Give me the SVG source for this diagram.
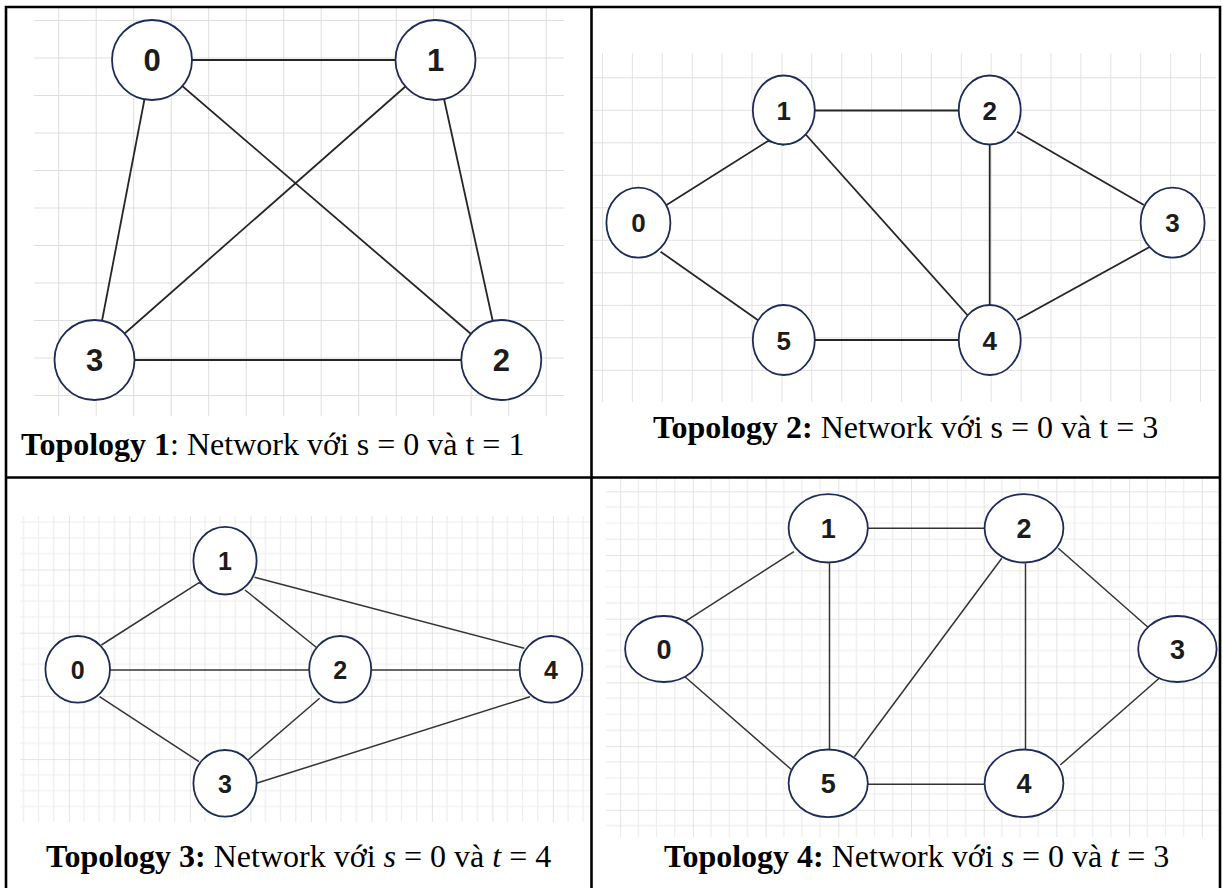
<svg xmlns="http://www.w3.org/2000/svg" width="1223" height="888" viewBox="0 0 1223 888">
  <style>
    .grid-a { stroke: #dedede; stroke-width: 2; fill: none; }
    .grid-major { stroke: #dcdcdc; stroke-width: 1.6; fill: none; }
    .grid-minor { stroke: #ededed; stroke-width: 1.2; fill: none; }
    .edge { stroke: #262626; stroke-width: 1.8; fill: none; stroke-linejoin: round; }
    .edge-thin { stroke: #333333; stroke-width: 1.5; fill: none; stroke-linejoin: round; }
    .node { fill: #ffffff; stroke: #1e2a58; stroke-width: 1.8; }
    .lbl { font-family: "Liberation Sans", Arial, sans-serif; font-weight: bold; fill: #1c1c1c; text-anchor: middle; }
    .cap { font-family: "Liberation Serif", "Times New Roman", serif; font-size: 32px; fill: #000000; }
    .b { font-weight: bold; }
    .i { font-style: italic; }
    .border { stroke: #000000; stroke-width: 2.6; fill: none; }
  </style>
  <defs>
    <!-- grid patterns for the four drawing areas -->
    <pattern id="g1" x="58.2" y="20" width="37.5" height="37.5" patternUnits="userSpaceOnUse">
      <path d="M0,0 V37.5 M0,0 H37.5" class="grid-a"/>
    </pattern>
    <pattern id="g2v" x="602" y="0" width="29.9" height="888" patternUnits="userSpaceOnUse">
      <path d="M0,0 V888" stroke="#e0e0e0" stroke-width="1.8"/>
    </pattern>
    <pattern id="g2h" x="0" y="77.3" width="1223" height="32.5" patternUnits="userSpaceOnUse">
      <path d="M0,0 H1223" stroke="#e0e0e0" stroke-width="1.8"/>
    </pattern>
    <pattern id="g3" x="8.4" y="506.3" width="60.5" height="63.2" patternUnits="userSpaceOnUse">
      <path d="M15.1,0 V63.2 M30.2,0 V63.2 M45.4,0 V63.2 M0,15.8 H60.5 M0,31.6 H60.5 M0,47.4 H60.5" class="grid-minor"/>
      <path d="M0,0 V63.2 M0,0 H60.5" class="grid-major"/>
    </pattern>
    <pattern id="g4" x="620.2" y="491.3" width="72.7" height="63.7" patternUnits="userSpaceOnUse">
      <path d="M18.2,0 V63.7 M36.35,0 V63.7 M54.5,0 V63.7 M0,15.9 H72.7 M0,31.85 H72.7 M0,47.8 H72.7" class="grid-minor"/>
      <path d="M0,0 V63.7 M0,0 H72.7" class="grid-major"/>
    </pattern>
  </defs>

  <rect x="0" y="0" width="1223" height="888" fill="#ffffff"/>

  <!-- ===== Topology 1 ===== -->
  <g id="topology-1">
    <rect x="34" y="8" width="530" height="408" fill="url(#g1)"/>
    <g id="t1-edges">
      <line class="edge" x1="152" y1="60" x2="435.5" y2="60"/>
      <line class="edge" x1="152" y1="60" x2="94.5" y2="360"/>
      <line class="edge" x1="152" y1="60" x2="501.3" y2="360"/>
      <line class="edge" x1="435.5" y1="60" x2="94.5" y2="360"/>
      <line class="edge" x1="435.5" y1="60" x2="501.3" y2="360"/>
      <line class="edge" x1="94.5" y1="360" x2="501.3" y2="360"/>
    </g>
    <g id="t1-n0"><circle class="node" cx="152" cy="60" r="40"/><text class="lbl" x="152" y="71" font-size="31">0</text></g>
    <g id="t1-n1"><circle class="node" cx="435.5" cy="60" r="40"/><text class="lbl" x="435.5" y="71" font-size="31">1</text></g>
    <g id="t1-n2"><circle class="node" cx="501.3" cy="360" r="40"/><text class="lbl" x="501.3" y="371" font-size="31">2</text></g>
    <g id="t1-n3"><circle class="node" cx="94.5" cy="360" r="40"/><text class="lbl" x="94.5" y="371" font-size="31">3</text></g>
    <text class="cap" x="21" y="455"><tspan class="b">Topology 1</tspan>: Network với s = 0 và t = 1</text>
  </g>

  <!-- ===== Topology 2 ===== -->
  <g id="topology-2">
    <rect x="591" y="53" width="625" height="349" fill="url(#g2v)"/>
    <rect x="591" y="53" width="625" height="349" fill="url(#g2h)"/>
    <g id="t2-edges">
      <line class="edge" x1="783.8" y1="110.5" x2="989.7" y2="110.5"/>
      <polyline class="edge" points="638.4,222.7 768,141 783.8,145"/>
      <line class="edge" x1="783.8" y1="110" x2="989.7" y2="340"/>
      <line class="edge" x1="989.7" y1="110" x2="989.7" y2="340"/>
      <line class="edge" x1="1017.1" y1="131.7" x2="1143.9" y2="205"/>
      <line class="edge" x1="660.6" y1="251.7" x2="758.8" y2="320.7"/>
      <line class="edge" x1="783.8" y1="340" x2="989.7" y2="340"/>
      <line class="edge" x1="1149.1" y1="247.3" x2="1017.1" y2="320"/>
    </g>
    <g id="t2-n0"><ellipse class="node" cx="638.4" cy="222.7" rx="32" ry="35"/><text class="lbl" x="638.4" y="232" font-size="26">0</text></g>
    <g id="t2-n1"><ellipse class="node" cx="783.8" cy="110" rx="31" ry="34.5"/><text class="lbl" x="783.8" y="119.5" font-size="26">1</text></g>
    <g id="t2-n2"><ellipse class="node" cx="989.7" cy="110" rx="31" ry="34.5"/><text class="lbl" x="989.7" y="119.5" font-size="26">2</text></g>
    <g id="t2-n3"><ellipse class="node" cx="1172.6" cy="222.7" rx="32" ry="35"/><text class="lbl" x="1172.6" y="232" font-size="26">3</text></g>
    <g id="t2-n4"><ellipse class="node" cx="989.7" cy="340" rx="31" ry="35"/><text class="lbl" x="989.7" y="349.5" font-size="26">4</text></g>
    <g id="t2-n5"><ellipse class="node" cx="783.8" cy="340" rx="31" ry="35"/><text class="lbl" x="783.8" y="349.5" font-size="26">5</text></g>
    <text class="cap" x="653" y="438"><tspan class="b">Topology 2:</tspan> Network với s = 0 và t = 3</text>
  </g>

  <!-- ===== Topology 3 ===== -->
  <g id="topology-3">
    <rect x="20" y="516" width="571" height="306" fill="url(#g3)"/>
    <g id="t3-edges">
      <polyline class="edge-thin" points="101.4,645 199,582.7 223.9,594"/>
      <line class="edge-thin" x1="245" y1="590" x2="319.6" y2="650"/>
      <line class="edge-thin" x1="254.5" y1="577.3" x2="524.3" y2="648.3"/>
      <line class="edge-thin" x1="109.8" y1="670" x2="309.2" y2="670"/>
      <line class="edge-thin" x1="371.2" y1="670" x2="519.7" y2="670"/>
      <line class="edge-thin" x1="99.5" y1="696.7" x2="199" y2="761.7"/>
      <line class="edge-thin" x1="319.6" y1="698.3" x2="248" y2="760"/>
      <line class="edge-thin" x1="256.4" y1="783.3" x2="530" y2="696.7"/>
    </g>
    <g id="t3-n0"><ellipse class="node" cx="77.7" cy="669.3" rx="32.3" ry="33.3"/><text class="lbl" x="77.7" y="678.5" font-size="25">0</text></g>
    <g id="t3-n1"><ellipse class="node" cx="225" cy="560.7" rx="31.6" ry="33.8"/><text class="lbl" x="225" y="570" font-size="25">1</text></g>
    <g id="t3-n2"><ellipse class="node" cx="340.2" cy="669.3" rx="31" ry="33.3"/><text class="lbl" x="340.2" y="678.5" font-size="25">2</text></g>
    <g id="t3-n3"><ellipse class="node" cx="225" cy="783.3" rx="31.6" ry="33.3"/><text class="lbl" x="225" y="792.5" font-size="25">3</text></g>
    <g id="t3-n4"><ellipse class="node" cx="551" cy="669.3" rx="31.4" ry="33.3"/><text class="lbl" x="551" y="678.5" font-size="25">4</text></g>
    <text class="cap" x="46" y="867"><tspan class="b">Topology 3:</tspan> Network với <tspan class="i">s</tspan> = 0 và <tspan class="i">t</tspan> = 4</text>
  </g>

  <!-- ===== Topology 4 ===== -->
  <g id="topology-4">
    <rect x="606" y="478" width="615" height="359" fill="url(#g4)"/>
    <g id="t4-edges">
      <line class="edge-thin" x1="867.4" y1="528.3" x2="984.8" y2="528.3"/>
      <line class="edge-thin" x1="684.9" y1="621.7" x2="793.9" y2="551.7"/>
      <line class="edge-thin" x1="829.5" y1="563.3" x2="829.5" y2="750"/>
      <line class="edge-thin" x1="1001.8" y1="558.3" x2="854.4" y2="756.7"/>
      <line class="edge-thin" x1="1025.5" y1="563.3" x2="1025.5" y2="750"/>
      <line class="edge-thin" x1="1058.3" y1="548.3" x2="1149.1" y2="628.3"/>
      <line class="edge-thin" x1="684.9" y1="676.7" x2="791.9" y2="770"/>
      <line class="edge-thin" x1="867.4" y1="784.3" x2="984.8" y2="784.3"/>
      <line class="edge-thin" x1="1159.2" y1="678.3" x2="1060.3" y2="765"/>
    </g>
    <g id="t4-n0"><ellipse class="node" cx="663.9" cy="649" rx="38.8" ry="33"/><text class="lbl" x="663.9" y="658.5" font-size="27">0</text></g>
    <g id="t4-n1"><ellipse class="node" cx="828.2" cy="528.3" rx="39.6" ry="34.2"/><text class="lbl" x="828.2" y="538" font-size="27">1</text></g>
    <g id="t4-n2"><ellipse class="node" cx="1024" cy="528.3" rx="39.4" ry="34.2"/><text class="lbl" x="1024" y="538" font-size="27">2</text></g>
    <g id="t4-n3"><ellipse class="node" cx="1177.4" cy="649" rx="39.2" ry="33"/><text class="lbl" x="1177.4" y="658.5" font-size="27">3</text></g>
    <g id="t4-n4"><ellipse class="node" cx="1024" cy="783.3" rx="39.4" ry="33.8"/><text class="lbl" x="1024" y="793" font-size="27">4</text></g>
    <g id="t4-n5"><ellipse class="node" cx="828.2" cy="783.3" rx="39.6" ry="33.8"/><text class="lbl" x="828.2" y="793" font-size="27">5</text></g>
    <text class="cap" x="664" y="867"><tspan class="b">Topology 4:</tspan> Network với <tspan class="i">s</tspan> = 0 và <tspan class="i">t</tspan> = 3</text>
  </g>

  <!-- table rules -->
  <g id="table">
    <path class="border" d="M6,888 V7 H1220 V888"/>
    <path class="border" d="M591.5,7 V888"/>
    <path class="border" d="M6,477.5 H1220"/>
  </g>
</svg>
